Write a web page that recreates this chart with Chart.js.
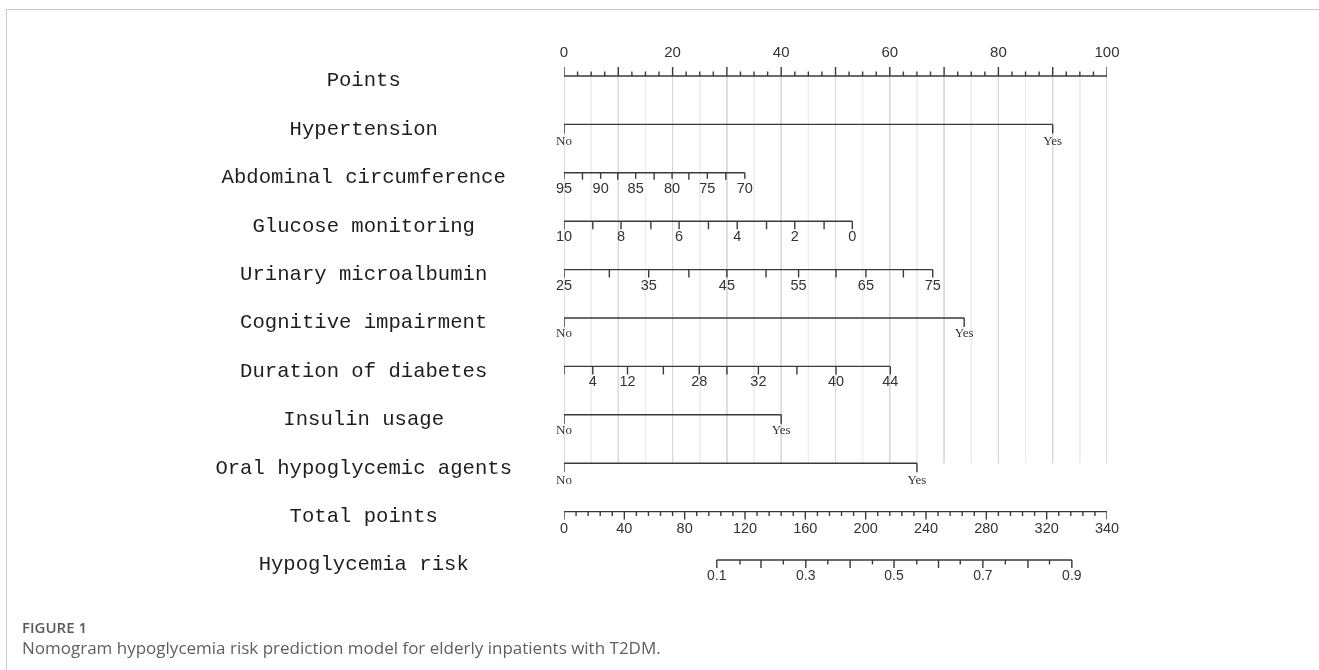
<!DOCTYPE html>
<html>
<head>
<meta charset="utf-8">
<script src="https://cdn.jsdelivr.net/npm/chart.js@4/dist/chart.umd.min.js"></script>
<style>
  html, body { margin: 0; padding: 0; background: #fff; width: 1319px; height: 670px; overflow: hidden; }
  #frame { position: absolute; left: 6px; top: 9px; width: 1400px; height: 700px;
           border-top: 1px solid #c9c9c9; border-left: 1px solid #c9c9c9; }
  #wrap { position: absolute; left: 0; top: 0; width: 1319px; height: 670px; }
  .fig { position: absolute; left: 22px; top: 617px; font: 600 15px "Open Sans", sans-serif; color: #5a5a5a; }
  .cap { position: absolute; left: 22px; top: 636px; font: 400 17px "Open Sans", sans-serif; color: #5f5f5f; }
</style>
</head>
<body>
<div id="frame"></div>
<div id="wrap"><canvas id="nomo" width="1319" height="670"></canvas></div>
<div class="fig">FIGURE 1</div>
<div class="cap">Nomogram hypoglycemia risk prediction model for elderly inpatients with T2DM.</div>
<script>
// ---- Row names (top to bottom) ----
const rowNames = ['Points', 'Hypertension', 'Abdominal circumference', 'Glucose monitoring',
  'Urinary microalbumin', 'Cognitive impairment', 'Duration of diabetes', 'Insulin usage',
  'Oral hypoglycemic agents', 'Total points', 'Hypoglycemia risk'];

// ---- Points scale ----
const pointsMax = 100;
const pointsLabels = [0, 20, 40, 60, 80, 100];
const pointsMinorStep = 2.5;
const pointsMajorStep = 10;

// ---- Binary predictors: points for No / Yes ----
const yesNoLabels = ['No', 'Yes'];
const hypertensionPts = [0, 90];
const cognitivePts = [0, 73.7];
const insulinPts = [0, 40];
const oralPts = [0, 65];

// ---- Abdominal circumference ----
const abdValues = [95, 92.5, 90, 87.5, 85, 82.5, 80, 77.5, 75, 72.5, 70];
const abdPts = [0, 3.4, 6.75, 9.9, 13.2, 16.6, 19.9, 23.0, 26.4, 29.8, 33.3];
const abdLabelled = [95, 90, 85, 80, 75, 70];

// ---- Glucose monitoring ----
const glucoseValues = [10, 9, 8, 7, 6, 5, 4, 3, 2, 1, 0];
const glucosePts = [0, 5.3, 10.5, 16.0, 21.2, 26.6, 31.9, 37.3, 42.5, 47.9, 53.1];
const glucoseLabelled = [10, 8, 6, 4, 2, 0];

// ---- Urinary microalbumin ----
const urineValues = [25, 30, 35, 40, 45, 50, 55, 60, 65, 70, 75];
const urinePts = [0, 8.35, 15.6, 23.0, 30.0, 37.2, 43.2, 50.1, 55.6, 62.5, 67.9];
const urineLabelled = [25, 35, 45, 55, 65, 75];

// ---- Duration of diabetes ----
const durationPts = [0, 5.3, 11.7, 18.3, 24.9, 30.0, 35.8, 42.9, 50.1, 60.1];
const durationLabels = ['', '4', '12', '', '28', '', '32', '', '40', '44'];

// ---- Total points (axis runs 0-360; the end tick carries the printed label "340") ----
const totalMax = 360;
const totalTickValues = [0, 40, 80, 120, 160, 200, 240, 280, 320, 360];
const totalTickText = ['0', '40', '80', '120', '160', '200', '240', '280', '320', '340'];
const totalMinorStep = 8;

// ---- Hypoglycemia risk (position on the total-points scale) ----
const riskValues = [0.1, 0.15, 0.2, 0.25, 0.3, 0.35, 0.4, 0.45, 0.5, 0.55, 0.6, 0.65, 0.7, 0.75, 0.8, 0.85, 0.9];
const riskTotal = [101.3, 116.7, 130.6, 145.4, 160.3, 174.9, 189.7, 204.5, 218.8, 233.9, 248.3, 262.7, 277.7, 292.6, 307.6, 321.9, 336.7];
const riskLabelled = [0.1, 0.3, 0.5, 0.7, 0.9];

// ---- Drawing helpers ----
const ROW_PX = 48.4;                 // vertical distance between rows
const px = v => v / ROW_PX;          // pixel length -> row units
const totToPts = t => t * pointsMax / totalMax;
const INK = '#3a3a3a';

// Build an axis: baseline plus ticks, as one broken polyline.
function axisData(row, xs, tickLen, dir) {
  const d = [];
  const lo = Math.min(...xs), hi = Math.max(...xs);
  d.push({ x: lo, y: row }, { x: hi, y: row }, { x: hi, y: null });
  xs.forEach((x, i) => {
    const len = Array.isArray(tickLen) ? tickLen[i] : tickLen;
    d.push({ x, y: row }, { x, y: row + dir * px(len) }, { x, y: null });
  });
  return d;
}

// Points axis ticks
const pTicks = [], pLens = [];
for (let v = 0; v <= pointsMax + 1e-9; v += pointsMinorStep) {
  pTicks.push(v);
  pLens.push(Math.abs(v % pointsMajorStep) < 1e-9 ? 9 : 4.5);
}
// Total points axis ticks
const tTicks = [], tLens = [];
for (let v = 0; v <= totalMax; v += totalMinorStep) {
  tTicks.push(totToPts(v));
  tLens.push(totalTickValues.includes(v) ? 8 : 4.5);
}
const rTicks = riskTotal.map(totToPts);
const rLens = riskValues.map(v => (Math.round(v * 100) % 10 === 0 ? 8 : 4.5));

// Vertical reference lines through the predictor rows
const gridMajor = [], gridMinor = [];
for (let v = 0; v <= pointsMax; v += 5) {
  const seg = [{ x: v, y: 0 }, { x: v, y: 8 }, { x: v, y: null }];
  (v % 10 === 0 ? gridMajor : gridMinor).push(...seg);
}

const line = (data, extra) => Object.assign({
  data, showLine: true, borderColor: INK, borderWidth: 1.4, pointRadius: 0,
  spanGaps: false, fill: false, order: 0, borderCapStyle: 'butt'
}, extra || {});

const datasets = [
  line(gridMajor, { borderColor: '#d9d9d9', borderWidth: 1, order: 10 }),
  line(gridMinor, { borderColor: '#ededed', borderWidth: 1, order: 11 }),
  line(axisData(0, pTicks, pLens, -1)),
  line(axisData(1, hypertensionPts, 9, 1)),
  line(axisData(2, abdPts, abdValues.map(v => abdLabelled.includes(v) ? 6 : 7), 1)),
  line(axisData(3, glucosePts, 8, 1)),
  line(axisData(4, urinePts, 8, 1)),
  line(axisData(5, cognitivePts, 9, 1)),
  line(axisData(6, durationPts, 8, 1)),
  line(axisData(7, insulinPts, 9, 1)),
  line(axisData(8, oralPts, 9, 1)),
  line(axisData(9, tTicks, tLens, 1)),
  line(axisData(10, rTicks, rLens, 1))
];

// Text labels for every row, positioned through the chart scales
const NUM_FONT = '14.5px "Liberation Sans", Arial, sans-serif';
const YN_FONT = '13px "Liberation Serif", "Times New Roman", serif';
const labelSets = [
  { row: 0, off: -23, font: '15px "Liberation Sans", Arial, sans-serif', items: pointsLabels.map(v => [v, String(v)]) },
  { row: 1, off: 17, font: YN_FONT, items: hypertensionPts.map((p, i) => [p, yesNoLabels[i]]) },
  { row: 2, off: 16, font: NUM_FONT, items: abdLabelled.map(v => [abdPts[abdValues.indexOf(v)], String(v)]) },
  { row: 3, off: 16, font: NUM_FONT, items: glucoseLabelled.map(v => [glucosePts[glucoseValues.indexOf(v)], String(v)]) },
  { row: 4, off: 16, font: NUM_FONT, items: urineLabelled.map(v => [urinePts[urineValues.indexOf(v)], String(v)]) },
  { row: 5, off: 16, font: YN_FONT, items: cognitivePts.map((p, i) => [p, yesNoLabels[i]]) },
  { row: 6, off: 16, font: NUM_FONT, items: durationPts.map((p, i) => [p, durationLabels[i]]) },
  { row: 7, off: 16, font: YN_FONT, items: insulinPts.map((p, i) => [p, yesNoLabels[i]]) },
  { row: 8, off: 17, font: YN_FONT, items: oralPts.map((p, i) => [p, yesNoLabels[i]]) },
  { row: 9, off: 17, font: NUM_FONT, items: totalTickValues.map((v, i) => [totToPts(v), totalTickText[i]]) },
  { row: 10, off: 16, font: '14px "Liberation Sans", Arial, sans-serif', items: riskLabelled.map(v => [totToPts(riskTotal[riskValues.indexOf(v)]), v.toFixed(1)]) }
];

const rowText = {
  id: 'rowText',
  afterDatasetsDraw(chart) {
    const { ctx, scales: { x, y } } = chart;
    ctx.save();
    ctx.fillStyle = '#333';
    ctx.textAlign = 'center';
    ctx.textBaseline = 'middle';
    labelSets.forEach(set => {
      ctx.font = set.font;
      const yy = y.getPixelForValue(set.row) + set.off;
      set.items.forEach(([p, txt]) => {
        if (txt) ctx.fillText(txt, x.getPixelForValue(p), yy);
      });
    });
    ctx.restore();
  }
};

new Chart(document.getElementById('nomo'), {
  type: 'scatter',
  data: { datasets },
  options: {
    responsive: false,
    animation: false,
    devicePixelRatio: 1,
    layout: { padding: { left: 164, right: 212, top: 76 - ROW_PX, bottom: 670 - (560 + ROW_PX) } },
    plugins: { legend: { display: false }, tooltip: { enabled: false } },
    scales: {
      x: { type: 'linear', min: 0, max: pointsMax, display: false },
      y: {
        type: 'linear', min: -1, max: 11, reverse: true,
        grid: { display: false, tickLength: 52 }, border: { display: false },
        afterFit(scale) { scale.width = 400; },
        afterBuildTicks(scale) { scale.ticks = rowNames.map((_, i) => ({ value: i })); },
        ticks: {
          callback: v => rowNames[v] || '',
          crossAlign: 'center', padding: 0, labelOffset: 5,
          color: '#1e1e1e', font: { family: '"Liberation Mono", "Courier New", monospace', size: 20.6 }
        }
      }
    }
  },
  plugins: [rowText]
});
</script>
</body>
</html>
